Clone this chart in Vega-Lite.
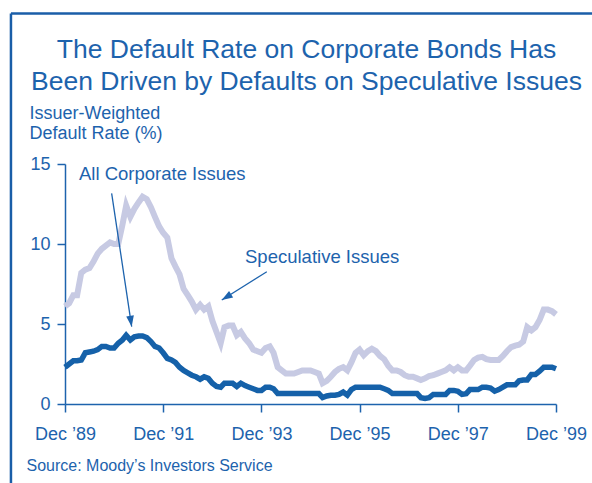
{
  "$schema": "https://vega.github.io/schema/vega-lite/v6.json",
  "width": 491,
  "height": 240,
  "autosize": {"type": "none"},
  "padding": {"left": 65, "top": 164, "right": 36, "bottom": 79},
  "background": "white",
  "title": {
    "text": ["The Default Rate on Corporate Bonds Has", "Been Driven by Defaults on Speculative Issues"],
    "font": "Liberation Sans", "fontSize": 26.5, "fontWeight": "normal", "color": "#1d63ad",
    "lineHeight": 32, "anchor": "middle", "frame": "group", "dx": -4, "offset": -83
  },
  "config": {
    "view": {"stroke": null},
    "font": "Liberation Sans",
    "axis": {
      "domainColor": "#1d63ad", "tickColor": "#1d63ad", "labelColor": "#1d63ad", "titleColor": "#1d63ad",
      "domainWidth": 1.5, "tickWidth": 1.5, "labelFont": "Liberation Sans", "titleFont": "Liberation Sans",
      "grid": false, "titleFontWeight": "normal"
    }
  },
  "data": {"values": [
    {"d":"1989-12","s":6.1,"a":2.3},{"d":"1990-01","s":6.3,"a":2.5},{"d":"1990-02","s":6.8,"a":2.7},{"d":"1990-03","s":6.8,"a":2.7},
    {"d":"1990-04","s":8.2,"a":2.75},{"d":"1990-05","s":8.4,"a":3.2},{"d":"1990-06","s":8.5,"a":3.25},{"d":"1990-07","s":8.9,"a":3.3},
    {"d":"1990-08","s":9.4,"a":3.4},{"d":"1990-09","s":9.7,"a":3.6},{"d":"1990-10","s":9.9,"a":3.6},{"d":"1990-11","s":10.1,"a":3.5},
    {"d":"1990-12","s":10.0,"a":3.5},{"d":"1991-01","s":10.0,"a":3.8},{"d":"1991-02","s":11.2,"a":4.0},{"d":"1991-03","s":12.4,"a":4.3},
    {"d":"1991-04","s":11.7,"a":4.0},{"d":"1991-05","s":12.2,"a":4.2},{"d":"1991-06","s":12.6,"a":4.25},{"d":"1991-07","s":12.95,"a":4.25},
    {"d":"1991-08","s":12.8,"a":4.15},{"d":"1991-09","s":12.3,"a":3.9},{"d":"1991-10","s":11.7,"a":3.6},{"d":"1991-11","s":11.1,"a":3.5},
    {"d":"1991-12","s":10.7,"a":3.2},{"d":"1992-01","s":10.4,"a":2.85},{"d":"1992-02","s":9.1,"a":2.75},{"d":"1992-03","s":8.6,"a":2.6},
    {"d":"1992-04","s":8.1,"a":2.3},{"d":"1992-05","s":7.2,"a":2.1},{"d":"1992-06","s":6.8,"a":1.95},{"d":"1992-07","s":6.4,"a":1.8},
    {"d":"1992-08","s":5.9,"a":1.7},{"d":"1992-09","s":6.2,"a":1.55},{"d":"1992-10","s":5.9,"a":1.7},{"d":"1992-11","s":6.1,"a":1.6},
    {"d":"1992-12","s":5.2,"a":1.3},{"d":"1993-01","s":4.5,"a":1.1},{"d":"1993-02","s":3.8,"a":1.05},{"d":"1993-03","s":4.8,"a":1.3},
    {"d":"1993-04","s":4.9,"a":1.3},{"d":"1993-05","s":4.9,"a":1.3},{"d":"1993-06","s":4.3,"a":1.1},{"d":"1993-07","s":4.5,"a":1.3},
    {"d":"1993-08","s":4.1,"a":1.15},{"d":"1993-09","s":3.8,"a":1.05},{"d":"1993-10","s":3.4,"a":0.95},{"d":"1993-11","s":3.3,"a":0.85},
    {"d":"1993-12","s":3.2,"a":0.85},{"d":"1994-01","s":3.5,"a":1.05},{"d":"1994-02","s":3.6,"a":1.05},{"d":"1994-03","s":3.2,"a":0.95},
    {"d":"1994-04","s":2.3,"a":0.65},{"d":"1994-05","s":2.1,"a":0.65},{"d":"1994-06","s":1.9,"a":0.65},{"d":"1994-07","s":1.9,"a":0.65},
    {"d":"1994-08","s":1.9,"a":0.65},{"d":"1994-09","s":2.0,"a":0.65},{"d":"1994-10","s":2.1,"a":0.65},{"d":"1994-11","s":2.1,"a":0.65},
    {"d":"1994-12","s":2.1,"a":0.65},{"d":"1995-01","s":2.0,"a":0.65},{"d":"1995-02","s":1.9,"a":0.65},{"d":"1995-03","s":1.3,"a":0.4},
    {"d":"1995-04","s":1.45,"a":0.5},{"d":"1995-05","s":1.7,"a":0.55},{"d":"1995-06","s":2.0,"a":0.55},{"d":"1995-07","s":2.2,"a":0.6},
    {"d":"1995-08","s":2.3,"a":0.75},{"d":"1995-09","s":2.1,"a":0.55},{"d":"1995-10","s":2.6,"a":0.9},{"d":"1995-11","s":3.2,"a":1.05},
    {"d":"1995-12","s":3.4,"a":1.05},{"d":"1996-01","s":3.05,"a":1.05},{"d":"1996-02","s":3.3,"a":1.05},{"d":"1996-03","s":3.45,"a":1.05},
    {"d":"1996-04","s":3.3,"a":1.05},{"d":"1996-05","s":3.0,"a":1.05},{"d":"1996-06","s":2.8,"a":0.95},{"d":"1996-07","s":2.4,"a":0.85},
    {"d":"1996-08","s":2.1,"a":0.65},{"d":"1996-09","s":2.1,"a":0.65},{"d":"1996-10","s":2.0,"a":0.65},{"d":"1996-11","s":1.8,"a":0.65},
    {"d":"1996-12","s":1.7,"a":0.65},{"d":"1997-01","s":1.7,"a":0.65},{"d":"1997-02","s":1.6,"a":0.65},{"d":"1997-03","s":1.5,"a":0.4},
    {"d":"1997-04","s":1.6,"a":0.35},{"d":"1997-05","s":1.75,"a":0.4},{"d":"1997-06","s":1.8,"a":0.6},{"d":"1997-07","s":1.9,"a":0.6},
    {"d":"1997-08","s":2.0,"a":0.6},{"d":"1997-09","s":2.1,"a":0.6},{"d":"1997-10","s":2.3,"a":0.85},{"d":"1997-11","s":2.1,"a":0.85},
    {"d":"1997-12","s":2.3,"a":0.8},{"d":"1998-01","s":2.1,"a":0.6},{"d":"1998-02","s":2.1,"a":0.65},{"d":"1998-03","s":2.4,"a":0.9},
    {"d":"1998-04","s":2.75,"a":0.9},{"d":"1998-05","s":2.9,"a":0.9},{"d":"1998-06","s":2.95,"a":1.05},{"d":"1998-07","s":2.8,"a":1.05},
    {"d":"1998-08","s":2.75,"a":1.0},{"d":"1998-09","s":2.75,"a":0.8},{"d":"1998-10","s":2.75,"a":0.9},{"d":"1998-11","s":3.0,"a":1.05},
    {"d":"1998-12","s":3.3,"a":1.2},{"d":"1999-01","s":3.55,"a":1.2},{"d":"1999-02","s":3.65,"a":1.2},{"d":"1999-03","s":3.7,"a":1.45},
    {"d":"1999-04","s":3.9,"a":1.5},{"d":"1999-05","s":4.8,"a":1.5},{"d":"1999-06","s":4.6,"a":1.85},{"d":"1999-07","s":4.8,"a":1.85},
    {"d":"1999-08","s":5.25,"a":2.05},{"d":"1999-09","s":5.9,"a":2.3},{"d":"1999-10","s":5.9,"a":2.3},{"d":"1999-11","s":5.8,"a":2.3},
    {"d":"1999-12","s":5.6,"a":2.2}
  ]},
  "layer": [
    {
      "mark": {"type": "line", "color": "#c7cae3", "strokeWidth": 6},
      "encoding": {
        "x": {"field": "d", "type": "temporal",
          "scale": {"domain": [{"year": 1989, "month": 12, "date": 1}, {"year": 1999, "month": 12, "date": 1}]},
          "axis": {
            "title": "Source: Moody’s Investors Service",
            "values": [{"year": 1989, "month": 12, "date": 1}, {"year": 1991, "month": 12, "date": 1}, {"year": 1993, "month": 12, "date": 1}, {"year": 1995, "month": 12, "date": 1}, {"year": 1997, "month": 12, "date": 1}, {"year": 1999, "month": 12, "date": 1}],
            "format": "%b ’%y", "labelFlush": false, "labelOverlap": false, "tickSize": 8, "labelPadding": 13, "labelFontSize": 18,
            "titleX": -39, "titleY": 66, "titleAlign": "left", "titleAnchor": "start", "titleBaseline": "alphabetic", "titleFontSize": 16
          }
        },
        "y": {"field": "s", "type": "quantitative",
          "scale": {"domain": [0, 15], "nice": false},
          "axis": {
            "title": ["Issuer-Weighted", "Default Rate (%)"],
            "values": [0, 5, 10, 15], "tickSize": 8, "labelPadding": 7, "labelFontSize": 18,
            "titleAngle": 0, "titleAlign": "left", "titleAnchor": "start", "titleBaseline": "alphabetic",
            "titleX": -36, "titleY": -46, "titleFontSize": 18, "titleLineHeight": 20
          }
        }
      }
    },
    {
      "mark": {"type": "line", "color": "#1561a9", "strokeWidth": 5.5},
      "encoding": {
        "x": {"field": "d", "type": "temporal"},
        "y": {"field": "a", "type": "quantitative"}
      }
    },
    {
      "data": {"values": [
        {"d": "1990-11-13", "r": 13.17, "d2": "1991-04-11", "r2": 4.83},
        {"d": "1994-01-10", "r": 8.27, "d2": "1993-02-09", "r2": 6.5}
      ]},
      "mark": {"type": "rule", "color": "#1d63ad", "strokeWidth": 1.3},
      "encoding": {
        "x": {"field": "d", "type": "temporal"},
        "y": {"field": "r", "type": "quantitative"},
        "x2": {"field": "d2"},
        "y2": {"field": "r2"}
      }
    },
    {
      "data": {"values": [{"d": "1991-04-11", "r": 4.83}]},
      "mark": {"type": "point", "shape": "M0,0 L-0.35,-1 L0.35,-1 Z", "filled": true, "size": 484, "color": "#1d63ad", "opacity": 1, "angle": 351.4},
      "encoding": {
        "x": {"field": "d", "type": "temporal"},
        "y": {"field": "r", "type": "quantitative"}
      }
    },
    {
      "data": {"values": [{"d": "1993-02-09", "r": 6.5}]},
      "mark": {"type": "point", "shape": "M0,0 L-0.35,-1 L0.35,-1 Z", "filled": true, "size": 484, "color": "#1d63ad", "opacity": 1, "angle": 57.9},
      "encoding": {
        "x": {"field": "d", "type": "temporal"},
        "y": {"field": "r", "type": "quantitative"}
      }
    },
    {
      "data": {"values": [
        {"d": "1990-03-15", "r": 14.0, "label": "All Corporate Issues"},
        {"d": "1993-08-01", "r": 8.81, "label": "Speculative Issues"}
      ]},
      "mark": {"type": "text", "align": "left", "baseline": "alphabetic", "fontSize": 18.5, "color": "#1d63ad", "font": "Liberation Sans"},
      "encoding": {
        "x": {"field": "d", "type": "temporal"},
        "y": {"field": "r", "type": "quantitative"},
        "text": {"field": "label"}
      }
    },
    {
      "data": {"values": [
        {"d": "1988-10-25", "r": 24.4, "d2": "2000-09-30", "r2": 24.4},
        {"d": "1988-10-25", "r": 24.4, "d2": "1988-10-25", "r2": -5.5}
      ]},
      "mark": {"type": "rule", "color": "#1a5ea8", "strokeWidth": 2.5},
      "encoding": {
        "x": {"field": "d", "type": "temporal"},
        "y": {"field": "r", "type": "quantitative"},
        "x2": {"field": "d2"},
        "y2": {"field": "r2"}
      }
    }
  ]
}
